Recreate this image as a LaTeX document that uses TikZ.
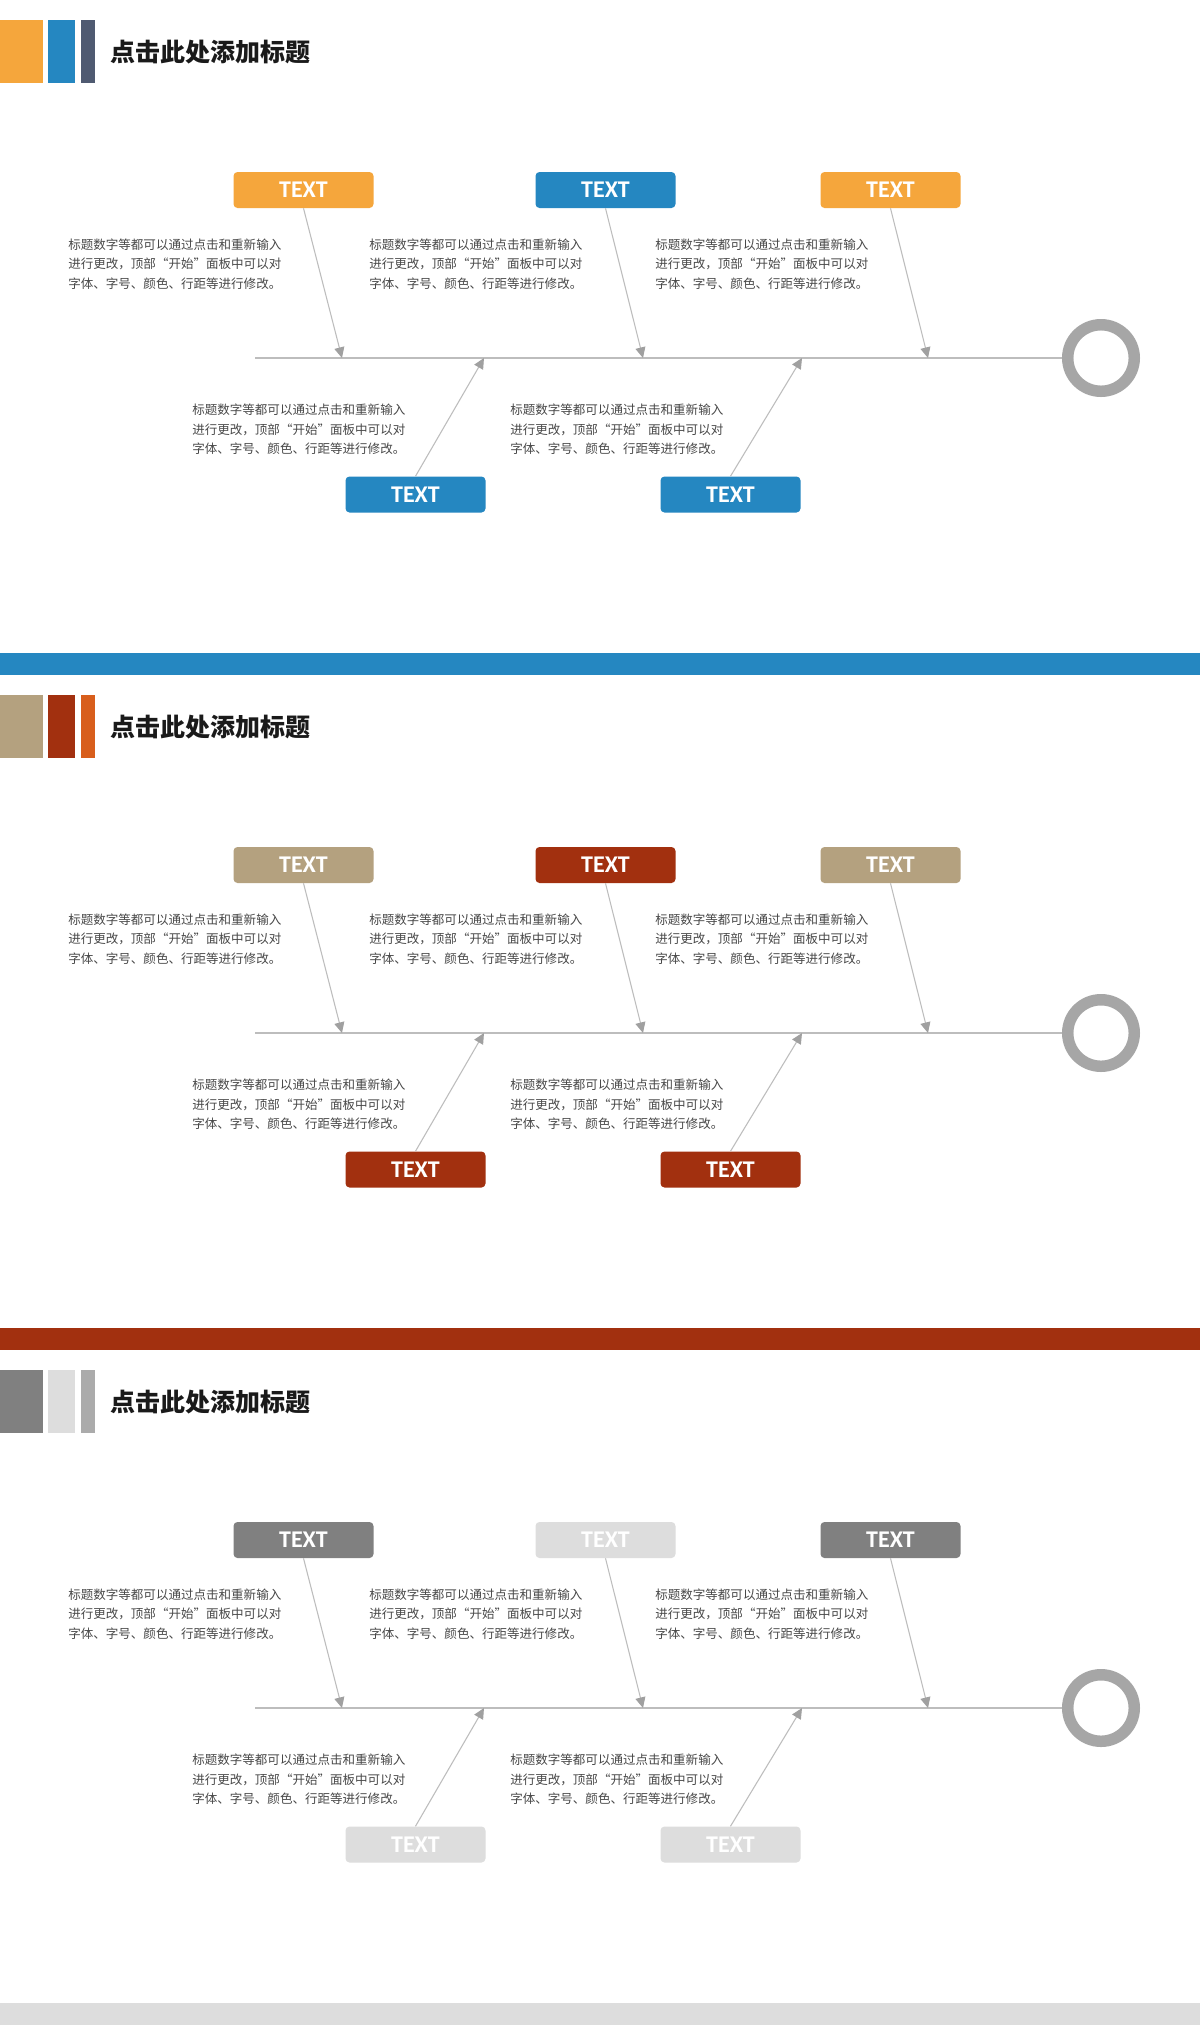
\documentclass[tikz,border=0pt]{standalone}
\usepackage{fontspec}
\setmainfont{Noto Sans CJK SC}
\newfontfamily\labelfont{Carlito}
\usetikzlibrary{arrows.meta}

\definecolor{cOrange}{HTML}{F5A63C}
\definecolor{cBlue}{HTML}{2587C1}
\definecolor{cSlate}{HTML}{4F5A71}
\definecolor{cTan}{HTML}{B4A17F}
\definecolor{cRed}{HTML}{A2300F}
\definecolor{cOrangeRed}{HTML}{D85E1C}
\definecolor{cGray}{HTML}{808080}
\definecolor{cLight}{HTML}{DDDDDD}
\definecolor{cMid}{HTML}{ABABAB}
\definecolor{ringgray}{HTML}{A6A6A6}
\definecolor{linegray}{HTML}{BDBDBD}
\definecolor{headgray}{HTML}{A0A0A0}
\definecolor{bodytext}{HTML}{484848}
\definecolor{titletext}{HTML}{1A1A1A}

\newcommand\bodytxt{标题数字等都可以通过点击和重新输入\\进行更改，顶部“开始”面板中可以对\\字体、字号、颜色、行距等进行修改。}

\tikzset{
  tbox/.style={rectangle, rounded corners=3pt, minimum width=105pt, minimum height=27pt,
    inner sep=0pt, text=white, font=\labelfont\bfseries\fontsize{18pt}{20pt}\selectfont},
  body/.style={anchor=north west, align=left, inner sep=0pt, text=bodytext,
    font=\fontsize{9.4pt}{14.6pt}\selectfont},
  headline/.style={anchor=west, inner sep=0pt, text=titletext,
    font=\bfseries\fontsize{18.75pt}{22pt}\selectfont},
  ring/.style={circle, draw=ringgray, line width=8.6pt, minimum size=49.9pt, inner sep=0pt},
  spine/.style={draw=linegray, line width=0.9pt},
  bone/.style={draw=linegray, line width=0.8pt,
    -{Triangle[length=8pt,width=7.5pt,color=headgray]}},
}

% one fishbone panel: #1 id, #2 vertical offset, #3 first colour, #4 second colour, #5 third square colour
\newcommand\fishpanel[5]{%
  \begin{scope}[shift={(0,#2)}]
    % header squares and heading
    \fill[#3] (0,20) rectangle (43,83);
    \fill[#4] (48,20) rectangle (75,83);
    \fill[#5] (81,20) rectangle (95,83);
    \node[headline] (head#1) at (110,52) {点击此处添加标题};
    % labelled boxes
    \node[tbox, fill=#3] (ta#1) at (303.5,190) {TEXT};
    \node[tbox, fill=#4] (tb#1) at (605.5,190) {TEXT};
    \node[tbox, fill=#3] (tc#1) at (890.5,190) {TEXT};
    \node[tbox, fill=#4] (ba#1) at (415.5,494.5) {TEXT};
    \node[tbox, fill=#4] (bb#1) at (730.5,494.5) {TEXT};
    % descriptions
    \node[body] (xa#1) at (68,238.5) {\bodytxt};
    \node[body] (xb#1) at (369,238.5) {\bodytxt};
    \node[body] (xc#1) at (655,238.5) {\bodytxt};
    \node[body] (ya#1) at (192,404) {\bodytxt};
    \node[body] (yb#1) at (510,404) {\bodytxt};
    % spine and head ring
    \node[ring] (ring#1) at (1101,358) {};
    \coordinate (sp#1) at (255,358);
    \draw[spine] (sp#1) -- (ring#1.west);
    % bones
    \coordinate (pa#1) at (342,358);
    \coordinate (pb#1) at (643,358);
    \coordinate (pc#1) at (928,358);
    \coordinate (qa#1) at (484,358);
    \coordinate (qb#1) at (802,358);
    \draw[bone] (ta#1.south) -- (pa#1);
    \draw[bone] (tb#1.south) -- (pb#1);
    \draw[bone] (tc#1.south) -- (pc#1);
    \draw[bone] (ba#1.north) -- (qa#1);
    \draw[bone] (bb#1.north) -- (qb#1);
    % separator bar
    \fill[#4] (0,653) rectangle (1200,675);
  \end{scope}%
}

\begin{document}
\begin{tikzpicture}[x=0.75pt, y=-0.75pt]
  \useasboundingbox (0,0) rectangle (1200,2025);
  \fill[white] (0,0) rectangle (1200,2025);
  \fishpanel{1}{0}{cOrange}{cBlue}{cSlate}
  \fishpanel{2}{675}{cTan}{cRed}{cOrangeRed}
  \fishpanel{3}{1350}{cGray}{cLight}{cMid}
\end{tikzpicture}
\end{document}
